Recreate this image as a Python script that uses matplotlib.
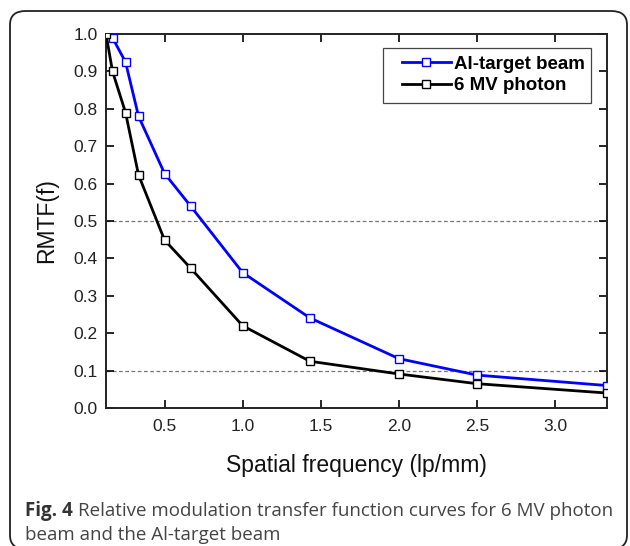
import matplotlib
matplotlib.use("Agg")
import matplotlib.pyplot as plt
from matplotlib.patches import FancyBboxPatch, Rectangle

freq = [0.125, 1/6, 0.25, 1/3, 0.5, 2/3, 1.0, 1.43, 2.0, 2.5, 3.333]
al_target = [1.0, 0.99, 0.925, 0.78, 0.627, 0.54, 0.362, 0.241, 0.132, 0.088, 0.06]
mv6 = [1.0, 0.90, 0.79, 0.623, 0.449, 0.374, 0.22, 0.125, 0.091, 0.065, 0.04]
series_names = ["Al-target beam", "6 MV photon"]
xticks = [0.5, 1.0, 1.5, 2.0, 2.5, 3.0]
yticks = [0.0, 0.1, 0.2, 0.3, 0.4, 0.5, 0.6, 0.7, 0.8, 0.9, 1.0]
ref_levels = [0.5, 0.1]

W, H = 630, 546
fig = plt.figure(figsize=(W/100, H/100), dpi=100)

# rounded frame (bottom edge just below the canvas)
frame = FancyBboxPatch((10/W, -3/H), 617/W, (549-11)/H,
                       boxstyle="round,pad=0,rounding_size=0.025",
                       transform=fig.transFigure, fill=False,
                       edgecolor="#222222", linewidth=1.3, clip_on=False)
fig.patches.append(frame)

ax = fig.add_axes([106/W, 1-408/H, (607-106)/W, (408-34)/H])
for y in ref_levels:
    ax.axhline(y, color="#777777", linestyle=(0, (3, 2)), linewidth=0.9, zorder=1)

ax.plot(freq, al_target, color="#0000ff", linewidth=2.0, marker="s", markersize=5.8,
        markerfacecolor="white", markeredgecolor="#0000ff", markeredgewidth=1.0,
        label=series_names[0], zorder=3)
ax.plot(freq, mv6, color="black", linewidth=2.0, marker="s", markersize=5.8,
        markerfacecolor="white", markeredgecolor="black", markeredgewidth=1.0,
        label=series_names[1], zorder=3)

ax.set_xlim(0.125, 3.333)
ax.set_ylim(0.0, 1.0)
ax.set_xticks(xticks)
ax.set_xticklabels([f"{v:.1f}" for v in xticks])
ax.set_yticks(yticks)
ax.set_yticklabels([f"{v:.1f}" for v in yticks])

tfont = "Liberation Sans"
for lab in ax.get_xticklabels() + ax.get_yticklabels():
    lab.set_fontfamily(tfont)
    lab.set_fontsize(12.5)
    lab.set_color("#222222")

ax.tick_params(axis="x", direction="in", top=True, length=6, width=1.2, pad=8)
ax.tick_params(axis="y", direction="in", left=True, right=True, length=6, width=1.2, pad=6)

for s in ax.spines.values():
    s.set_linewidth(1.4)
    s.set_color("#222222")

ax.set_xlabel("Spatial frequency (lp/mm)", fontfamily=tfont, fontsize=16.5, labelpad=14, color="#111111")
ax.set_ylabel("RMTF(f)", fontfamily=tfont, fontsize=16.5, labelpad=11, color="#111111")

# legend box drawn separately to match the wider left padding
ax.add_patch(Rectangle((0.553, 0.8155), 0.968 - 0.553, 0.9626 - 0.8155,
                       transform=ax.transAxes, facecolor="white",
                       edgecolor="#444444", linewidth=0.9, zorder=4))
leg = ax.legend(loc="upper right", bbox_to_anchor=(0.970, 0.9626), frameon=False,
                borderpad=0.4, handlelength=2.6,
                handletextpad=0.15, labelspacing=0.25, borderaxespad=0,
                prop={"family": tfont, "weight": "bold", "size": 13.5})
leg.set_zorder(5)

# caption
cap_font = "Open Sans"
t1 = fig.text(25/W, 1-511/H, "Fig. 4", fontfamily=cap_font, fontweight="bold",
              fontsize=13.5, color="#333333", va="center", ha="left")
fig.canvas.draw()
bb = t1.get_window_extent()
fig.text((bb.x1 + 5)/W, 1-511/H, "Relative modulation transfer function curves for 6 MV photon",
         fontfamily=cap_font, fontsize=13.5, color="#444444", va="center", ha="left")
fig.text(25/W, 1-535/H, "beam and the Al-target beam",
         fontfamily=cap_font, fontsize=13.5, color="#444444", va="center", ha="left")

fig.savefig("out.png", dpi=100)
